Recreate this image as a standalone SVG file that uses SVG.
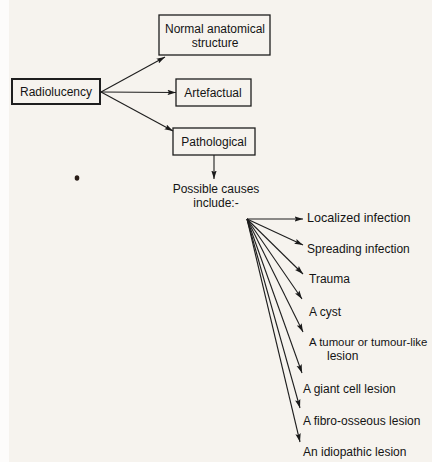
<svg xmlns="http://www.w3.org/2000/svg" width="432" height="462" viewBox="0 0 432 462">
<defs>
<marker id="ah" markerWidth="9" markerHeight="6" refX="8.5" refY="3" orient="auto" markerUnits="userSpaceOnUse">
<path d="M0,0.3 L8.5,3 L0,5.7 L1.5,3 z" fill="#1a1a1a"/>
</marker>
<style>
text{font-family:"Liberation Sans",Arial,sans-serif;font-size:12px;fill:#141414}
.c{text-anchor:middle}
.box{fill:none;stroke:#1e1e1e;stroke-width:1.3}
.thick{stroke-width:2}
#connectors line{stroke:#1e1e1e;stroke-width:1.1;marker-end:url(#ah)}
</style>
</defs>
<rect x="0" y="0" width="432" height="462" fill="#f6f3ee"/>
<rect x="0" y="0" width="9" height="462" fill="#fdfcfb"/>
<ellipse cx="77" cy="178" rx="2.3" ry="2.8" fill="#2a1d18"/>
<g id="connectors">
<line x1="101" y1="92" x2="165" y2="57"/>
<line x1="101" y1="92" x2="176" y2="92.5"/>
<line x1="101" y1="92" x2="173" y2="131"/>
<line x1="214" y1="155" x2="214" y2="179"/>
<line x1="247" y1="219" x2="303" y2="219"/>
<line x1="247" y1="219" x2="303" y2="245"/>
<line x1="247" y1="219" x2="303" y2="274"/>
<line x1="247" y1="219" x2="302" y2="299"/>
<line x1="247" y1="219" x2="303" y2="332"/>
<line x1="247" y1="219" x2="302" y2="373"/>
<line x1="247" y1="219" x2="300" y2="408"/>
<line x1="247" y1="219" x2="300" y2="442"/>
</g>
<g id="radiolucency">
<rect class="box thick" x="12" y="79" width="88" height="25"/>
<text class="c" x="56" y="96">Radiolucency</text>
</g>
<g id="normal">
<rect class="box" x="159" y="15" width="111" height="40"/>
<text class="c" x="215" y="33">Normal anatomical</text>
<text class="c" x="215" y="47">structure</text>
</g>
<g id="artefactual">
<rect class="box" x="176" y="79" width="75" height="27"/>
<text class="c" x="213" y="97">Artefactual</text>
</g>
<g id="pathological">
<rect class="box" x="173" y="128" width="82" height="27"/>
<text class="c" x="214" y="146">Pathological</text>
</g>
<g id="possible">
<text class="c" x="216" y="193">Possible causes</text>
<text class="c" x="216" y="207">include:-</text>
</g>
<g id="localized"><text x="307" y="222" style="font-size:12.6px">Localized infection</text></g>
<g id="spreading"><text x="307" y="253">Spreading infection</text></g>
<g id="trauma"><text x="309" y="283">Trauma</text></g>
<g id="cyst"><text x="309" y="316">A cyst</text></g>
<g id="tumour">
<text x="309" y="346" style="font-size:11.4px">A tumour or tumour-like</text>
<text x="327" y="360">lesion</text>
</g>
<g id="giant"><text x="303" y="393">A giant cell lesion</text></g>
<g id="fibro"><text x="303" y="425">A fibro-osseous lesion</text></g>
<g id="idiopathic"><text x="303" y="456">An idiopathic lesion</text></g>
</svg>
